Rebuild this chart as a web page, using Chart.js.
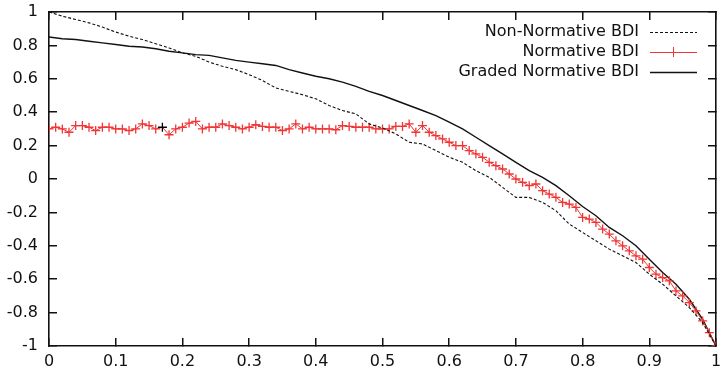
<!DOCTYPE html>
<html lang="en">

<head>
  <meta charset="UTF-8" />
  <title>BDI</title>
  <style>
    body { margin: 0; background: #fff; }
    div { width: 724px; height: 374px; }
  </style>
</head>

<body>
  <div>
    <canvas id="myChart" width="724" height="374"></canvas>
  </div>

  <script src="https://cdn.jsdelivr.net/npm/chart.js"></script>
  <script>
    // x positions (fine grid for red markers, coarse for the black curves)
    const xFine = [0, 0.01, 0.02, 0.03, 0.04, 0.05, 0.06, 0.07, 0.08, 0.09,
      0.1, 0.11, 0.12, 0.13, 0.14, 0.15, 0.16, 0.17, 0.18, 0.19,
      0.2, 0.21, 0.22, 0.23, 0.24, 0.25, 0.26, 0.27, 0.28, 0.29,
      0.3, 0.31, 0.32, 0.33, 0.34, 0.35, 0.36, 0.37, 0.38, 0.39,
      0.4, 0.41, 0.42, 0.43, 0.44, 0.45, 0.46, 0.47, 0.48, 0.49,
      0.5, 0.51, 0.52, 0.53, 0.54, 0.55, 0.56, 0.57, 0.58, 0.59,
      0.6, 0.61, 0.62, 0.63, 0.64, 0.65, 0.66, 0.67, 0.68, 0.69,
      0.7, 0.71, 0.72, 0.73, 0.74, 0.75, 0.76, 0.77, 0.78, 0.79,
      0.8, 0.81, 0.82, 0.83, 0.84, 0.85, 0.86, 0.87, 0.88, 0.89,
      0.9, 0.91, 0.92, 0.93, 0.94, 0.95, 0.96, 0.97, 0.98, 0.99, 1];
    const xCoarse = [0, 0.02, 0.04, 0.06, 0.08, 0.1, 0.12, 0.14, 0.16, 0.18,
      0.2, 0.22, 0.24, 0.26, 0.28, 0.3, 0.32, 0.34, 0.36, 0.38,
      0.4, 0.42, 0.44, 0.46, 0.48, 0.5, 0.52, 0.54, 0.56, 0.58,
      0.6, 0.62, 0.64, 0.66, 0.68, 0.7, 0.72, 0.74, 0.76, 0.78,
      0.8, 0.82, 0.84, 0.86, 0.88, 0.9, 0.92, 0.94, 0.96, 0.98, 1];

    const nonNormative = [1.0, 0.975, 0.955, 0.935, 0.91, 0.88, 0.855, 0.835, 0.81, 0.785,
      0.755, 0.735, 0.70, 0.675, 0.655, 0.625, 0.59, 0.545, 0.525, 0.505,
      0.48, 0.44, 0.41, 0.39, 0.33, 0.305, 0.27, 0.22, 0.21, 0.17,
      0.13, 0.10, 0.05, 0.01, -0.05, -0.11, -0.11, -0.14, -0.19, -0.27,
      -0.32, -0.37, -0.42, -0.46, -0.50, -0.57, -0.63, -0.70, -0.77, -0.86, -1.0];

    const normative = [0.30, 0.31, 0.30, 0.28, 0.32, 0.32, 0.31, 0.29, 0.31, 0.31,
      0.30, 0.30, 0.29, 0.30, 0.33, 0.32, 0.30, 0.31, 0.265, 0.30,
      0.31, 0.335, 0.345, 0.30, 0.31, 0.31, 0.33, 0.32, 0.31, 0.30,
      0.31, 0.325, 0.315, 0.31, 0.31, 0.29, 0.30, 0.33, 0.30, 0.31,
      0.30, 0.30, 0.30, 0.295, 0.32, 0.315, 0.31, 0.31, 0.31, 0.30,
      0.30, 0.30, 0.315, 0.315, 0.33, 0.28, 0.32, 0.28, 0.26, 0.24,
      0.22, 0.20, 0.20, 0.17, 0.15, 0.13, 0.10, 0.08, 0.06, 0.03,
      0.00, -0.02, -0.04, -0.03, -0.07, -0.09, -0.11, -0.14, -0.15, -0.17,
      -0.23, -0.24, -0.26, -0.30, -0.33, -0.37, -0.40, -0.43, -0.46, -0.48,
      -0.53, -0.57, -0.59, -0.61, -0.67, -0.70, -0.74, -0.79, -0.85, -0.92, -1.0];

    const graded = [0.85, 0.84, 0.835, 0.825, 0.815, 0.805, 0.795, 0.79, 0.78, 0.765,
      0.755, 0.745, 0.74, 0.725, 0.71, 0.70, 0.69, 0.68, 0.655, 0.635,
      0.615, 0.60, 0.58, 0.555, 0.525, 0.50, 0.47, 0.44, 0.41, 0.38,
      0.34, 0.30, 0.25, 0.20, 0.15, 0.10, 0.05, 0.01, -0.04, -0.10,
      -0.165, -0.22, -0.29, -0.34, -0.40, -0.48, -0.56, -0.63, -0.72, -0.84, -1.0];

    const xTickLabels = ["0", "0.1", "0.2", "0.3", "0.4", "0.5", "0.6", "0.7", "0.8", "0.9", "1"];
    const yTickLabels = ["-1", "-0.8", "-0.6", "-0.4", "-0.2", "0", "0.2", "0.4", "0.6", "0.8", "1"];
    const seriesNames = ["Non-Normative BDI", "Normative BDI", "Graded Normative BDI"];

    const FONT = "'DejaVu Sans', sans-serif";
    const RED = "#f03535";
    const INK = "#111";

    function pts(xa, ya) {
      return ya.map((v, i) => ({ x: xa[i], y: v }));
    }

    // one stray black marker at x = 0.17 in the red series
    const markerColors = normative.map((v, i) => (i === 17 ? "#000" : RED));

    // key: text right aligned, line sample to the right of it
    const keyPlugin = {
      id: "gnuKey",
      afterDraw(chart) {
        const c = chart.ctx;
        const textRight = 639, x0 = 650, x1 = 697;
        const rows = [32, 52, 72];
        c.save();
        c.font = "16px " + FONT;
        c.textAlign = "right";
        c.textBaseline = "middle";
        chart.data.datasets.forEach((ds, i) => {
          const y = rows[i];
          c.fillStyle = INK;
          c.fillText(ds.label, textRight, y);
          c.strokeStyle = ds.borderColor;
          c.lineWidth = ds.borderWidth;
          c.setLineDash(ds.borderDash || []);
          c.beginPath();
          c.moveTo(x0, y + 0.5);
          c.lineTo(x1, y + 0.5);
          c.stroke();
          c.setLineDash([]);
          if (ds.pointStyle === "cross") {
            const mx = (x0 + x1) / 2;
            c.beginPath();
            c.moveTo(mx - 5, y + 0.5);
            c.lineTo(mx + 5, y + 0.5);
            c.moveTo(mx, y - 5);
            c.lineTo(mx, y + 5);
            c.stroke();
          }
        });
        c.restore();
      },
    };

    // inward tick marks: negative tick length, grid not drawn on the chart area
    const inwardGrid = {
      display: true,
      drawOnChartArea: false,
      drawTicks: true,
      tickLength: -8,
      color: INK,
      lineWidth: 1.5,
    };
    const frameBorder = { display: true, color: INK, width: 1.6 };

    const ctx = document.getElementById("myChart");
    const data = {
      datasets: [
        {
          label: seriesNames[0],
          data: pts(xCoarse, nonNormative),
          borderColor: INK,
          borderWidth: 1.1,
          borderDash: [3, 2],
          pointRadius: 0,
          tension: 0,
        },
        {
          label: seriesNames[1],
          data: pts(xFine, normative),
          borderColor: RED,
          borderWidth: 1,
          pointStyle: "cross",
          pointRadius: 4.5,
          pointBorderWidth: 1.3,
          pointBorderColor: markerColors,
          tension: 0,
        },
        {
          label: seriesNames[2],
          data: pts(xCoarse, graded),
          borderColor: INK,
          borderWidth: 1.4,
          pointRadius: 0,
          tension: 0,
        },
      ],
    };

    const config = {
      type: "line",
      data: data,
      options: {
        responsive: false,
        animation: false,
        layout: { padding: { top: 12, right: 8, left: 0, bottom: 0 } },
        plugins: { legend: { display: false }, tooltip: { enabled: false } },
        scales: {
          x: {
            type: "linear",
            position: "bottom",
            min: 0,
            max: 1,
            grid: inwardGrid,
            border: frameBorder,
            afterFit(s) {
              s.height = 28;
              s.paddingLeft = 0;
              s.paddingRight = 0;
            },
            ticks: {
              stepSize: 0.1,
              padding: 14,
              color: INK,
              font: { family: FONT, size: 16 },
              maxRotation: 0,
              autoSkip: false,
              callback: (v, i) => xTickLabels[i],
            },
          },
          x2: {
            type: "linear",
            axis: "x",
            position: "top",
            min: 0,
            max: 1,
            grid: inwardGrid,
            border: frameBorder,
            afterFit(s) {
              s.height = 0;
              s.paddingLeft = 0;
              s.paddingRight = 0;
            },
            ticks: { stepSize: 0.1, display: false },
          },
          y: {
            position: "left",
            min: -1,
            max: 1,
            grid: inwardGrid,
            border: frameBorder,
            afterFit(s) {
              s.width = 49;
              s.paddingTop = 0;
              s.paddingBottom = 0;
            },
            ticks: {
              stepSize: 0.2,
              padding: 19,
              color: INK,
              font: { family: FONT, size: 16 },
              autoSkip: false,
              callback: (v, i) => yTickLabels[i],
            },
          },
          y2: {
            type: "linear",
            axis: "y",
            position: "right",
            min: -1,
            max: 1,
            grid: inwardGrid,
            border: frameBorder,
            afterFit(s) {
              s.width = 0;
              s.paddingTop = 0;
              s.paddingBottom = 0;
            },
            ticks: { stepSize: 0.2, display: false },
          },
        },
      },
      plugins: [keyPlugin],
    };
    new Chart(ctx, config);
  </script>
</body>

</html>
